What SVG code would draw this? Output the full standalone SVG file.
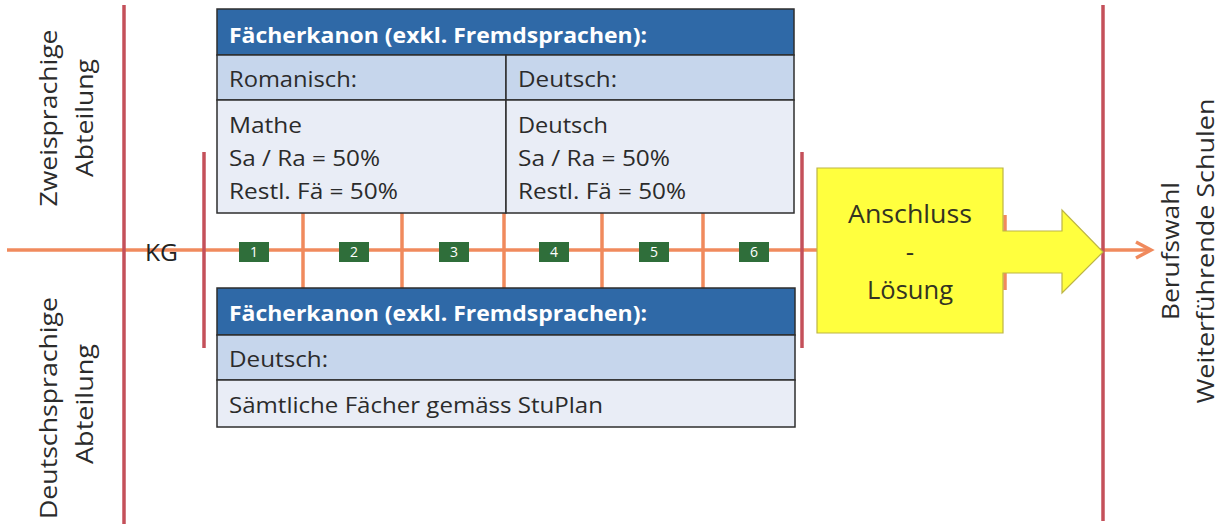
<svg xmlns="http://www.w3.org/2000/svg" width="1227" height="524" viewBox="0 0 1227 524">
  <defs>
    <style>
      text { font-family: "Open Sans", "Liberation Sans", sans-serif; fill: #2b2b2b; }
      .hdr { font-size: 22px; font-weight: bold; fill: #ffffff; }
      .cell { font-size: 22px; }
      .side { font-size: 24px; }
      .kg { font-size: 24px; fill: #222222; }
      .big { font-size: 26px; fill: #333322; }
      .num { font-size: 14px; fill: #ffffff; text-anchor: middle; }
      .red { stroke: #c4505a; stroke-width: 3.5; fill: none; }
      .orange { stroke: #f08a5d; stroke-width: 3.5; fill: none; }
      .frame { stroke: #2e2e2e; stroke-width: 1.5; }
      .head { fill: #2f69a7; }
      .sub { fill: #c6d6ec; }
      .body { fill: #e9edf6; }
      .grade { fill: #2f6e3a; }
    </style>
  </defs>
  <rect width="1227" height="524" fill="#ffffff"/>

  <!-- timeline, ticks and boundary lines -->
  <g id="connectors">
    <line class="orange" x1="7" y1="250" x2="1150" y2="250"/>
    <path class="orange" d="M1136,242 L1151,250 L1136,258" stroke-linejoin="miter"/>
    <line class="orange" x1="303" y1="213" x2="303" y2="288"/>
    <line class="orange" x1="402" y1="213" x2="402" y2="288"/>
    <line class="orange" x1="504" y1="213" x2="504" y2="288"/>
    <line class="orange" x1="602" y1="213" x2="602" y2="288"/>
    <line class="orange" x1="703" y1="213" x2="703" y2="288"/>
    <line class="orange" x1="1005" y1="215" x2="1005" y2="290"/>
    <line class="red" x1="124" y1="5" x2="124" y2="524"/>
    <line class="red" x1="204" y1="152" x2="204" y2="348"/>
    <line class="red" x1="802" y1="152" x2="802" y2="348"/>
    <line class="red" x1="1103" y1="5" x2="1103" y2="521"/>
  </g>

  <!-- division labels -->
  <g id="label-zweisprachig">
    <text class="side" transform="translate(57,118) rotate(-90)" text-anchor="middle" textLength="177" lengthAdjust="spacingAndGlyphs">Zweisprachige</text>
    <text class="side" transform="translate(93,118) rotate(-90)" text-anchor="middle" textLength="118" lengthAdjust="spacingAndGlyphs">Abteilung</text>
  </g>
  <g id="label-deutschsprachig">
    <text class="side" transform="translate(57,408) rotate(-90)" text-anchor="middle" textLength="222" lengthAdjust="spacingAndGlyphs">Deutschsprachige</text>
    <text class="side" transform="translate(93,404) rotate(-90)" text-anchor="middle" textLength="120" lengthAdjust="spacingAndGlyphs">Abteilung</text>
  </g>
  <g id="label-ziel">
    <text class="side" transform="translate(1179,251) rotate(-90)" text-anchor="middle" textLength="138" lengthAdjust="spacingAndGlyphs">Berufswahl</text>
    <text class="side" transform="translate(1214,251) rotate(-90)" text-anchor="middle" textLength="305" lengthAdjust="spacingAndGlyphs">Weiterführende Schulen</text>
  </g>

  <g id="kg">
    <text class="kg" x="145" y="261" textLength="33" lengthAdjust="spacingAndGlyphs">KG</text>
  </g>

  <!-- subject canon, bilingual division -->
  <g id="kanon-zweisprachig">
    <rect class="head frame" x="217" y="9" width="577" height="46"/>
    <rect class="sub frame" x="217" y="55" width="289" height="45"/>
    <rect class="sub frame" x="506" y="55" width="288" height="45"/>
    <rect class="body frame" x="217" y="100" width="289" height="113"/>
    <rect class="body frame" x="506" y="100" width="288" height="113"/>
    <text class="hdr" x="229" y="43" textLength="418" lengthAdjust="spacingAndGlyphs">Fächerkanon (exkl. Fremdsprachen):</text>
    <text class="cell" x="229" y="87" textLength="128" lengthAdjust="spacingAndGlyphs">Romanisch:</text>
    <text class="cell" x="518" y="87" textLength="99" lengthAdjust="spacingAndGlyphs">Deutsch:</text>
    <text class="cell" x="229" y="133" textLength="73" lengthAdjust="spacingAndGlyphs">Mathe</text>
    <text class="cell" x="229" y="166" textLength="151" lengthAdjust="spacingAndGlyphs">Sa / Ra = 50%</text>
    <text class="cell" x="229" y="199" textLength="169" lengthAdjust="spacingAndGlyphs">Restl. Fä = 50%</text>
    <text class="cell" x="518" y="133" textLength="90" lengthAdjust="spacingAndGlyphs">Deutsch</text>
    <text class="cell" x="518" y="166" textLength="152" lengthAdjust="spacingAndGlyphs">Sa / Ra = 50%</text>
    <text class="cell" x="518" y="199" textLength="168" lengthAdjust="spacingAndGlyphs">Restl. Fä = 50%</text>
  </g>

  <!-- subject canon, German-speaking division -->
  <g id="kanon-deutschsprachig">
    <rect class="head frame" x="217" y="288" width="578" height="47"/>
    <rect class="sub frame" x="217" y="335" width="578" height="45"/>
    <rect class="body frame" x="217" y="380" width="578" height="47"/>
    <text class="hdr" x="229" y="321" textLength="418" lengthAdjust="spacingAndGlyphs">Fächerkanon (exkl. Fremdsprachen):</text>
    <text class="cell" x="229" y="367" textLength="99" lengthAdjust="spacingAndGlyphs">Deutsch:</text>
    <text class="cell" x="229" y="413" textLength="374" lengthAdjust="spacingAndGlyphs">Sämtliche Fächer gemäss StuPlan</text>
  </g>

  <!-- school years 1-6 -->
  <g id="klassen">
    <g id="klasse-1"><rect class="grade" x="239" y="242" width="30" height="20"/><text class="num" x="254" y="257">1</text></g>
    <g id="klasse-2"><rect class="grade" x="339" y="242" width="30" height="20"/><text class="num" x="354" y="257">2</text></g>
    <g id="klasse-3"><rect class="grade" x="439" y="242" width="30" height="20"/><text class="num" x="454" y="257">3</text></g>
    <g id="klasse-4"><rect class="grade" x="539" y="242" width="30" height="20"/><text class="num" x="554" y="257">4</text></g>
    <g id="klasse-5"><rect class="grade" x="639" y="242" width="30" height="20"/><text class="num" x="654" y="257">5</text></g>
    <g id="klasse-6"><rect class="grade" x="739" y="242" width="30" height="20"/><text class="num" x="754" y="257">6</text></g>
  </g>

  <!-- transition solution with arrow -->
  <g id="anschluss">
    <path d="M817,168 H1003 V231 H1062 V210 L1103,252 L1062,293 V273 H1003 V333 H817 Z" fill="#ffff3e" stroke="#bdb545" stroke-width="1.2"/>
    <text class="big" x="910" y="223" text-anchor="middle" textLength="124" lengthAdjust="spacingAndGlyphs">Anschluss</text>
    <text class="big" x="910" y="261" text-anchor="middle">-</text>
    <text class="big" x="910" y="299" text-anchor="middle" textLength="86" lengthAdjust="spacingAndGlyphs">Lösung</text>
  </g>
</svg>
